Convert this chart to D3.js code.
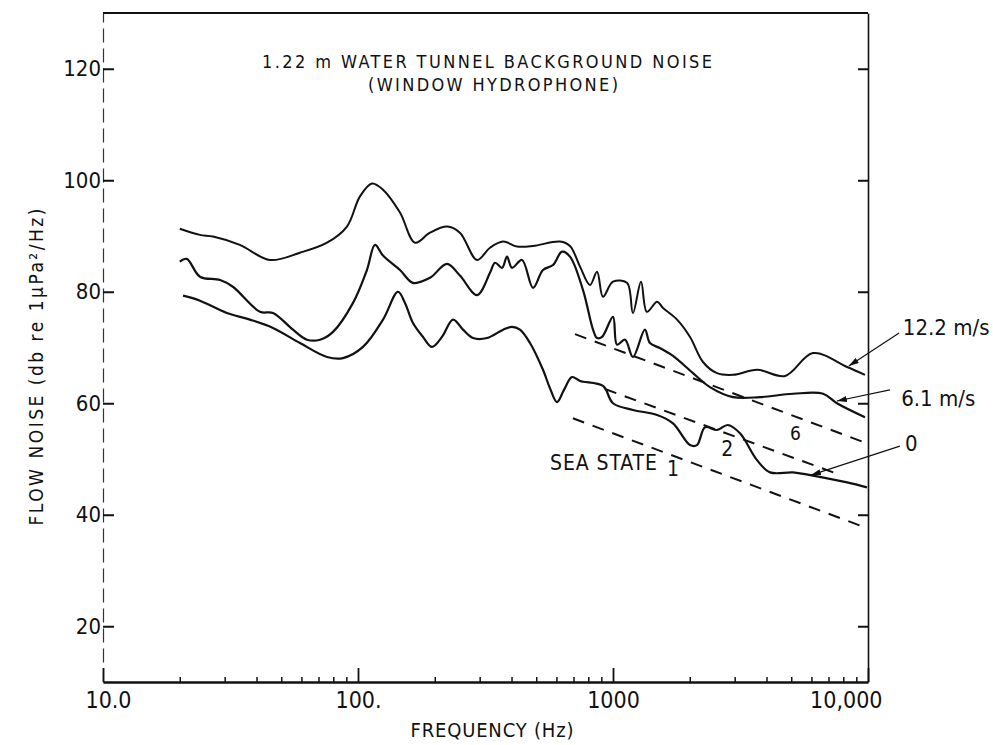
<!DOCTYPE html>
<html>
<head>
<meta charset="utf-8">
<script src="https://cdn.jsdelivr.net/npm/d3@7"></script>
<style>
  body { margin: 0; background: #fff; }
  svg text { font-family: "Liberation Sans Narrow", "DejaVu Sans Condensed", "Arial Narrow", sans-serif; fill: #111; }
</style>
</head>
<body>
<svg id="chart" width="993" height="745"></svg>
<script>
// axis ticks and labels
const xTickValues = [10, 100, 1000, 10000];
const xTickLabels = ["10.0", "100.", "1000", "10,000"];
const xMinorTicks = [20, 30, 40, 50, 60, 70, 80, 90, 200, 300, 400, 500, 600, 700, 800, 900,
  2000, 3000, 4000, 5000, 6000, 7000, 8000, 9000];
const yTickValues = [20, 40, 60, 80, 100, 120];

// flow noise spectra, [frequency Hz, dB]
const flow122 = [[20.0, 91.3], [24.0, 90.2], [27.0, 89.9], [34.4, 88.4], [45.2, 85.7], [59.2, 87.0],
  [75.6, 88.8], [90.5, 91.7], [101.8, 97.1], [113.5, 99.4], [125.3, 98.3], [146.1, 94.2],
  [167.4, 88.8], [191.5, 90.6], [223.4, 91.7], [251.0, 90.6], [293.0, 85.7], [329.4, 87.9],
  [370.9, 89.0], [420.5, 88.1], [485.7, 88.2], [619.5, 89.0], [678.1, 88.2], [742.5, 84.5],
  [812.3, 81.2], [865.9, 83.6], [913.6, 79.1], [1000, 81.8], [1135, 81.6], [1197, 76.2],
  [1288, 81.8], [1358, 76.4], [1489, 78.2], [1571, 77.1], [1783, 75.0], [2005, 71.9],
  [2254, 67.4], [2557, 65.4], [2958, 65.1], [3672, 66.0], [4730, 64.9], [6085, 69.0],
  [8280, 66.5], [9730, 65.1]];
const flow61 = [[20.0, 85.4], [21.3, 85.9], [24.0, 82.7], [28.8, 82.1], [32.3, 80.9], [41.3, 76.4],
  [46.4, 76.2], [55.6, 73.2], [63.1, 71.4], [71.0, 71.4], [79.8, 72.8], [95.6, 78.0],
  [108.4, 83.9], [116.6, 88.4], [125.3, 86.5], [146.1, 83.9], [164.3, 81.6], [191.5, 82.5],
  [223.4, 85.0], [251.0, 82.9], [293.0, 79.4], [329.4, 83.4], [344.6, 85.2], [367.3, 84.3],
  [384.0, 86.3], [401.6, 84.3], [439.7, 85.7], [485.7, 80.7], [531.4, 83.9], [581.9, 84.8],
  [630.8, 87.2], [678.1, 86.3], [762.8, 80.3], [835.0, 73.2], [865.9, 71.7], [906.0, 71.9],
  [1000, 75.5], [1037, 70.5], [1115, 71.4], [1197, 68.3], [1334, 73.2], [1396, 70.8],
  [1528, 69.9], [1719, 68.5], [2060, 65.4], [2400, 62.9], [2958, 61.1], [3768, 61.1],
  [5082, 61.7], [6666, 61.7], [7552, 60.0], [9730, 57.5]];
const flow0 = [[20.6, 79.3], [24.0, 78.4], [30.6, 76.2], [37.7, 75.0], [46.4, 73.5], [59.2, 70.8],
  [75.6, 68.3], [87.3, 68.1], [104.6, 70.1], [125.3, 75.0], [143.5, 80.0], [152.8, 78.0],
  [164.3, 74.4], [179.8, 71.9], [195.1, 70.1], [213.4, 71.9], [235.9, 75.0], [258.1, 73.2],
  [282.5, 71.7], [320.6, 71.7], [370.9, 73.2], [401.6, 73.7], [431.8, 73.2], [472.6, 70.8],
  [531.4, 66.0], [566.0, 62.7], [603.1, 60.2], [642.3, 62.4], [690.4, 64.7], [742.5, 64.0],
  [913.6, 63.1], [1000, 60.0], [1197, 58.8], [1489, 57.9], [1719, 56.4], [2005, 52.5],
  [2135, 52.5], [2296, 55.7], [2557, 55.2], [2825, 56.1], [3148, 54.6], [3672, 49.8],
  [4128, 47.6], [5082, 47.6], [5929, 47.1], [8280, 45.8], [9910, 44.9]];

// sea state reference lines
const seaState6 = [[709.6, 72.4], [9910, 52.8]];
const seaState2 = [[930, 62.55], [7620, 47.3]];
const seaState1 = [[696, 57.3], [9910, 37.6]];

// speed labels: text, text anchor point, leader start, arrow tip
const speedLabels = ["12.2 m/s", "6.1 m/s", "0"];
const speedLabelPos = [[13700, 72.3], [13500, 59.5], [13960, 51.4]];
const leaderFrom = [[13240, 72.6], [12190, 62.4], [13330, 52.3]];
const leaderTo = [[8410, 66.7], [7550, 60.4], [5970, 47.1]];

const svg = d3.select("#chart");
const x = d3.scaleLog().domain([10, 10000]).range([103, 868]);
const y = d3.scaleLinear().domain([10, 130]).range([682, 13]);

svg.append("defs").append("marker")
  .attr("id", "arrow")
  .attr("viewBox", "0 0 10 6")
  .attr("refX", 10).attr("refY", 3)
  .attr("markerWidth", 10).attr("markerHeight", 6)
  .attr("markerUnits", "userSpaceOnUse")
  .attr("orient", "auto")
  .append("path").attr("d", "M0,0 L10,3 L0,6 Z").attr("fill", "#111");

// frame
svg.append("line")
  .attr("x1", x(10)).attr("x2", x(10000)).attr("y1", y(130)).attr("y2", y(130))
  .attr("stroke", "#111").attr("stroke-width", 2.2);

// left axis
const yAxis = d3.axisLeft(y).tickValues(yTickValues).tickSizeInner(-11).tickSizeOuter(0).tickPadding(2);
const gy = svg.append("g").attr("transform", `translate(${x(10)},0)`).call(yAxis);
gy.select(".domain").attr("stroke", "#333").attr("stroke-width", 1.2).attr("stroke-dasharray", "14,6");
gy.selectAll(".tick line").attr("stroke", "#111").attr("stroke-width", 2);
gy.selectAll(".tick text").attr("font-size", 22).attr("fill", "#111")
  .style("font-family", "\"Liberation Sans Narrow\", \"DejaVu Sans Condensed\", sans-serif");

// right axis
const yAxisR = d3.axisRight(y).tickValues(yTickValues).tickSizeInner(-10).tickSizeOuter(0).tickFormat("");
const gyr = svg.append("g").attr("transform", `translate(${x(10000)},0)`).call(yAxisR);
gyr.select(".domain").attr("stroke", "#111").attr("stroke-width", 1.6);
gyr.selectAll(".tick line").attr("stroke", "#111").attr("stroke-width", 2);

// bottom axis: minor and major ticks
const xMinor = d3.axisBottom(x).tickValues(xMinorTicks).tickSizeInner(-5).tickSizeOuter(0).tickFormat("");
const gxm = svg.append("g").attr("transform", `translate(0,${y(10)})`).call(xMinor);
gxm.select(".domain").remove();
gxm.selectAll(".tick line").attr("stroke", "#111").attr("stroke-width", 1.5);

const xAxis = d3.axisBottom(x).tickValues(xTickValues).tickSizeInner(-14).tickSizeOuter(0).tickPadding(4)
  .tickFormat((d, i) => xTickLabels[i]);
const gx = svg.append("g").attr("transform", `translate(0,${y(10)})`).call(xAxis);
gx.select(".domain").attr("stroke", "#111").attr("stroke-width", 2.4);
gx.selectAll(".tick line").attr("stroke", "#111").attr("stroke-width", 1.8);
gx.selectAll(".tick text").attr("font-size", 23).attr("fill", "#111").attr("dy", "0.95em")
  .style("font-family", "\"Liberation Sans Narrow\", \"DejaVu Sans Condensed\", sans-serif");
gx.selectAll(".tick text").filter((d, i) => i === 0).attr("dx", 5);
gx.selectAll(".tick text").filter((d, i) => i === xTickValues.length - 1)
  .attr("text-anchor", "end").attr("dx", 14);

// sea state lines
const line = d3.line().x(d => x(d[0])).y(d => y(d[1]));
[seaState6, seaState2, seaState1].forEach(s => {
  svg.append("path").datum(s).attr("d", line)
    .attr("fill", "none").attr("stroke", "#111").attr("stroke-width", 2)
    .attr("stroke-dasharray", "12,9");
});

// spectra
const curve = d3.line().x(d => x(d[0])).y(d => y(d[1])).curve(d3.curveCatmullRom.alpha(0.5));
[flow122, flow61, flow0].forEach((s, i) => {
  svg.append("path").datum(s).attr("d", curve)
    .attr("fill", "none").attr("stroke", "#111")
    .attr("stroke-width", i === 0 ? 2 : 2.2)
    .attr("stroke-linejoin", "round");
});

// speed labels with leaders
speedLabels.forEach((t, i) => {
  svg.append("line")
    .attr("x1", x(leaderFrom[i][0])).attr("y1", y(leaderFrom[i][1]))
    .attr("x2", x(leaderTo[i][0])).attr("y2", y(leaderTo[i][1]))
    .attr("stroke", "#111").attr("stroke-width", 1.2)
    .attr("marker-end", "url(#arrow)");
  svg.append("text")
    .attr("x", x(speedLabelPos[i][0])).attr("y", y(speedLabelPos[i][1]))
    .attr("font-size", 22)
    .text(t);
});

// sea state labels
svg.append("text").attr("x", x(566)).attr("y", y(48.0)).attr("font-size", 21)
  .attr("textLength", 107).attr("lengthAdjust", "spacing").text("SEA STATE");
svg.append("text").attr("x", x(1629)).attr("y", y(46.9)).attr("font-size", 21).text("1");
svg.append("text").attr("x", x(2655)).attr("y", y(50.5)).attr("font-size", 21).text("2");
svg.append("text").attr("x", x(4940)).attr("y", y(53.4)).attr("font-size", 19).attr("fill", "#666").text("6");

// title
svg.append("text").attr("x", 262).attr("y", 68).attr("font-size", 18)
  .attr("textLength", 450).attr("lengthAdjust", "spacing")
  .text("1.22 m WATER TUNNEL BACKGROUND NOISE");
svg.append("text").attr("x", 368).attr("y", 91).attr("font-size", 18)
  .attr("textLength", 250).attr("lengthAdjust", "spacing")
  .text("(WINDOW HYDROPHONE)");

// axis titles
svg.append("text").attr("x", 492).attr("y", 737).attr("text-anchor", "middle")
  .attr("font-size", 20).attr("textLength", 163).attr("lengthAdjust", "spacing")
  .text("FREQUENCY (Hz)");
svg.append("text")
  .attr("transform", "translate(43,367) rotate(-90)")
  .attr("text-anchor", "middle").attr("font-size", 19)
  .attr("textLength", 317).attr("lengthAdjust", "spacing")
  .text("FLOW NOISE (db re 1\u03BCPa\u00B2/Hz)");
</script>
</body>
</html>
